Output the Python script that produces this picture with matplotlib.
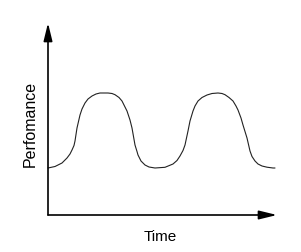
import matplotlib
matplotlib.use('Agg')
import matplotlib.pyplot as plt

plt.rcParams['font.family'] = ['Liberation Sans', 'DejaVu Sans']

# curve (time, performance)
time = [0, 7, 14, 19, 22, 24, 26, 27, 29, 32, 34, 37, 40, 44, 48, 52, 60, 64,
        67, 71, 74, 77, 79, 82, 84, 87, 89, 90, 93, 97, 101, 107, 117, 125,
        129, 132, 135, 137, 140, 142, 145, 147, 150, 154, 159, 164, 170, 174,
        177, 181, 185, 188, 190, 193, 195, 199, 202, 204, 207, 210, 214, 219,
        225, 227]
perf = [47, 48.5, 52, 57, 61, 65, 69.5, 74, 87, 100, 106, 112, 116, 119, 121,
        122, 122, 121.5, 120.3, 117.5, 114, 108, 104, 95, 87, 70, 63.5, 60, 54,
        50, 48, 47, 47.7, 51, 54.5, 59, 64.5, 70, 84, 94, 104, 109, 114, 117.5,
        120, 121.5, 122, 121.5, 120.3, 117.5, 114, 109, 105, 97, 90, 77, 64,
        58.5, 54, 51, 49, 47.8, 47, 47]

W, H = 301, 252
fig = plt.figure(figsize=(W / 100, H / 100), dpi=100)
ax = fig.add_axes([48 / W, (H - 215) / H, (277 - 48) / W, (215 - 23) / H])
ax.set_xlim(0, 229)
ax.set_ylim(0, 192)
ax.axis('off')

ax.plot(time, perf, color='#222222', linewidth=0.8, clip_on=False,
        solid_joinstyle='round', solid_capstyle='round')

# axes with arrows
arrow_kw = dict(arrowstyle='-|>,head_length=0.9,head_width=0.22',
                mutation_scale=12, color='black', linewidth=1.2,
                shrinkA=0, shrinkB=0)
ax.annotate('', xy=(0, 1), xytext=(0, 0), xycoords='axes fraction',
            arrowprops=arrow_kw)
ax.annotate('', xy=(1, 0), xytext=(0, 0), xycoords='axes fraction',
            arrowprops=arrow_kw)

fig.text(30 / W, 1 - 124 / H, 'Perfomance', rotation=90, ha='center',
         va='center', fontsize=11.5)
fig.text(160 / W, 1 - 237 / H, 'Time', ha='center', va='center', fontsize=11)

fig.savefig('out.png', dpi=100, facecolor='white')
